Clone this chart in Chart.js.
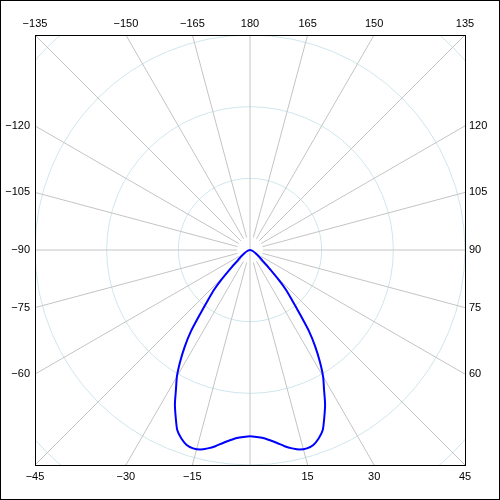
<!DOCTYPE html>
<html>
<head>
<meta charset="utf-8">
<script src="https://cdn.jsdelivr.net/npm/chart.js@4"></script>
<style>
html,body{margin:0;padding:0;background:#fff;}
canvas{display:block;}
</style>
</head>
<body>
<canvas id="c" width="500" height="500"></canvas>
<script>
// Polar luminous intensity curve: angle (deg, 0 = straight down, + to the right) and intensity
const curveAngles = [-90,-80,-70,-60,-55,-50,-47,-44,-42,-40,-38,-36,-34,-32,-30,-28,-26,-24,-22,-20,-18,-16,-14,-12,-10,-8,-6,-4,-2,0,
  2,4,6,8,10,12,14,16,18,20,22,24,26,28,30,32,34,36,38,40,42,44,47,50,55,60,70,80,90];
const curveIntensity = [0,1,4,9,14,22,34,57,76,91,112,140,163,184,204,220,239,255,271,280,286,288,287,283,278,272,267,263,261,260,
  261,263,267,272,278,283,287,288,286,280,271,255,239,220,204,184,163,140,112,91,76,57,34,22,14,9,4,1,0];

// Grid
const ringValues = [100,200,300,400];
const spokeAngles = [];
for (let a = -165; a <= 180; a += 15) spokeAngles.push(a);
const topLabels = ['−135','−150','−165','180','165','150','135'];
const topLabelAngles = [-135,-150,-165,180,165,150,135];
const leftLabels = ['−120','−105','−90','−75','−60'];
const leftLabelAngles = [-120,-105,-90,-75,-60];
const rightLabels = ['120','105','90','75','60'];
const rightLabelAngles = [120,105,90,75,60];
const bottomLabels = ['−45','−30','−15','15','30','45'];
const bottomLabelAngles = [-45,-30,-15,15,30,45];
const axisLimit = 300;

const points = curveAngles.map((a, i) => {
  const t = a * Math.PI / 180;
  return { x: curveIntensity[i] * Math.sin(t), y: -curveIntensity[i] * Math.cos(t) };
});

const polarGrid = {
  id: 'polarGrid',
  beforeDatasetsDraw(chart) {
    const ctx = chart.ctx;
    const ca = chart.chartArea;
    const xs = chart.scales.x, ys = chart.scales.y;
    const cx = xs.getPixelForValue(0), cy = ys.getPixelForValue(0);
    const unit = xs.getPixelForValue(1) - cx;
    ctx.save();
    ctx.beginPath();
    ctx.rect(ca.left, ca.top, ca.right - ca.left, ca.bottom - ca.top);
    ctx.clip();
    ctx.lineWidth = 1;
    ctx.strokeStyle = '#cfe6ec';
    ringValues.forEach(v => {
      ctx.beginPath();
      ctx.arc(cx, cy, v * unit, 0, Math.PI * 2);
      ctx.stroke();
    });
    ctx.strokeStyle = '#c4c4c4';
    spokeAngles.forEach(a => {
      const t = a * Math.PI / 180;
      const dx = Math.sin(t), dy = Math.cos(t);
      const r0 = (a === 0 || a === 180) ? 0 : 13;
      ctx.beginPath();
      ctx.moveTo(cx + dx * r0, cy + dy * r0);
      ctx.lineTo(cx + dx * 600, cy + dy * 600);
      ctx.stroke();
    });
    ctx.restore();
  },
  afterDatasetsDraw(chart) {
    const ctx = chart.ctx;
    const ca = chart.chartArea;
    const xs = chart.scales.x, ys = chart.scales.y;
    const cx = xs.getPixelForValue(0), cy = ys.getPixelForValue(0);
    ctx.save();
    ctx.strokeStyle = '#000';
    ctx.lineWidth = 1;
    ctx.strokeRect(Math.round(ca.left) + 0.5, Math.round(ca.top) + 0.5, Math.round(ca.right - ca.left), Math.round(ca.bottom - ca.top));
    ctx.strokeRect(0.5, 0.5, chart.width - 1, chart.height - 1);
    ctx.fillStyle = '#000';
    ctx.font = '11px "Liberation Sans", Arial, sans-serif';
    const halfH = ca.bottom - cy;
    const halfW = ca.right - cx;
    ctx.textAlign = 'center'; ctx.textBaseline = 'middle';
    topLabelAngles.forEach((a, i) => {
      const t = a * Math.PI / 180;
      const dx = Math.sin(t), dy = Math.cos(t);
      const k = (cy - ca.top) / Math.abs(dy);
      ctx.fillText(topLabels[i], cx + dx * k, ca.top - 11);
    });
    bottomLabelAngles.forEach((a, i) => {
      const t = a * Math.PI / 180;
      const dx = Math.sin(t), dy = Math.cos(t);
      const k = halfH / Math.abs(dy);
      ctx.fillText(bottomLabels[i], cx + dx * k, ca.bottom + 12);
    });
    ctx.textAlign = 'right';
    leftLabelAngles.forEach((a, i) => {
      const t = a * Math.PI / 180;
      const dx = Math.sin(t), dy = Math.cos(t);
      const k = (cx - ca.left) / Math.abs(dx);
      ctx.fillText(leftLabels[i], ca.left - 5, cy + dy * k);
    });
    ctx.textAlign = 'left';
    rightLabelAngles.forEach((a, i) => {
      const t = a * Math.PI / 180;
      const dx = Math.sin(t), dy = Math.cos(t);
      const k = halfW / Math.abs(dx);
      ctx.fillText(rightLabels[i], ca.right + 4, cy + dy * k);
    });
    ctx.restore();
  }
};

new Chart(document.getElementById('c'), {
  type: 'scatter',
  data: {
    datasets: [{
      data: points,
      showLine: true,
      borderColor: '#0000ff',
      borderWidth: 2,
      pointRadius: 0,
      tension: 0.2,
      fill: false
    }]
  },
  options: {
    responsive: false,
    animation: false,
    devicePixelRatio: 1,
    layout: { padding: { left: 35, right: 35, top: 35, bottom: 35 } },
    plugins: { legend: { display: false }, tooltip: { enabled: false } },
    scales: {
      x: { type: 'linear', min: -axisLimit, max: axisLimit, display: false },
      y: { type: 'linear', min: -axisLimit, max: axisLimit, display: false }
    }
  },
  plugins: [polarGrid]
});
</script>
</body>
</html>
